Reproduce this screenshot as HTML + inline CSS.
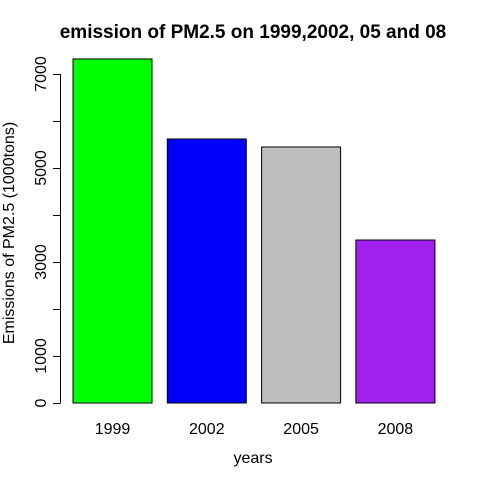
<!DOCTYPE html>
<html><head><meta charset="utf-8"><style>
body{margin:0;background:#fff}
svg text{font-family:"Liberation Sans",Arial,sans-serif;fill:#000}
</style></head><body>
<svg id="c" width="480" height="480">
<text x="253" y="38" font-size="19" font-weight="bold" text-anchor="middle">emission of PM2.5 on 1999,2002, 05 and 08</text>
<text x="253" y="463" font-size="16" text-anchor="middle">years</text>
<text transform="translate(14,233) rotate(-90)" font-size="16" text-anchor="middle">Emissions of PM2.5 (1000tons)</text>
</svg>
<script>
const categories=["1999","2002","2005","2008"];
const values=[7320,5617,5447,3468];
const colors=["#00ff00","#0000ff","#bebebe","#a020f0"];
const yTicks=[0,1000,2000,3000,4000,5000,6000,7000];
const yTickLabels=["0","1000","","3000","","5000","","7000"];
const ns="http://www.w3.org/2000/svg";
const svg=document.getElementById("c");
function y(v){return 403-v*0.047;}
function x(i){return 73+i*94.3;}
const bw=79;
function mk(t,a){const e=document.createElementNS(ns,t);for(const k in a)e.setAttribute(k,a[k]);svg.appendChild(e);return e;}
values.forEach((v,i)=>{
 const r=mk("rect",{x:x(i),y:y(v),width:bw,height:y(0)-y(v),fill:colors[i],stroke:"#000","stroke-width":1});
 
 
 const t=mk("text",{x:x(i)+bw/2,y:434,"font-size":16,"text-anchor":"middle"});
 t.textContent=categories[i];
 
 
});
const ax=mk("line",{x1:60.5,x2:60.5,y1:y(0),y2:y(7000),stroke:"#000"});


yTicks.forEach((v,i)=>{
 const l=mk("line",{x1:53,x2:60.5,y1:y(v)+0.5,y2:y(v)+0.5,stroke:"#000"});
 
 
 if(yTickLabels[i]){
  const t=mk("text",{transform:`translate(46,${y(v)}) rotate(-90)`,"font-size":16,"text-anchor":"middle"});
  t.textContent=yTickLabels[i];
  
  
 }
});
</script>
</body></html>
